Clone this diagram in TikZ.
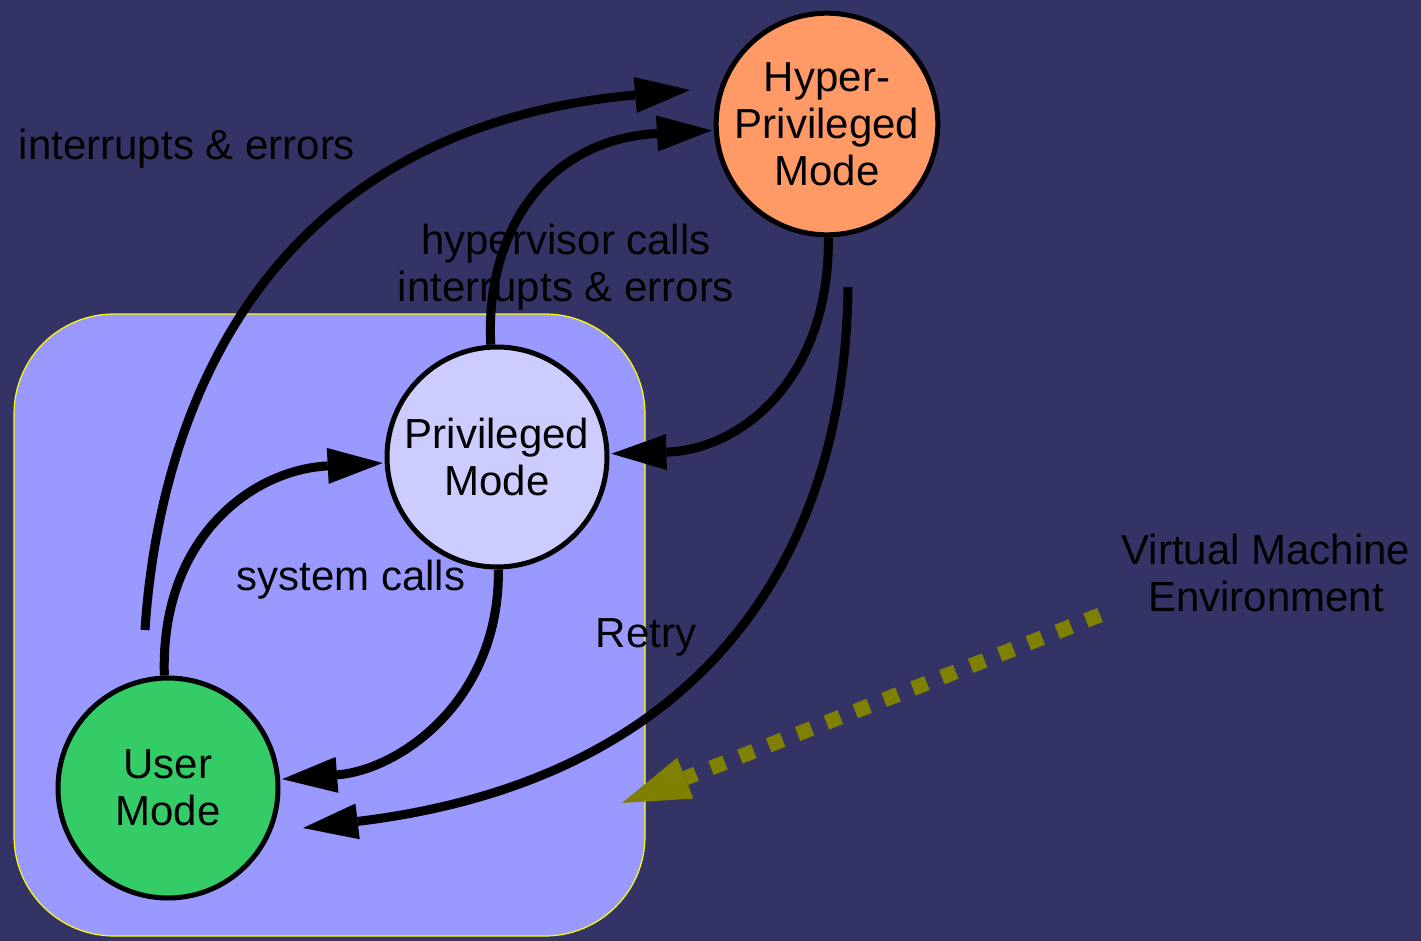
\documentclass[tikz,border=0pt]{standalone}
\usepackage{fontspec}
\setmainfont{Liberation Sans}
\usetikzlibrary{arrows.meta}
\definecolor{bgblue}{HTML}{333366}
\definecolor{vmfill}{HTML}{9999FF}
\definecolor{privfill}{HTML}{CCCCFF}
\definecolor{hyperfill}{HTML}{FF9966}
\definecolor{userfill}{HTML}{33CC66}
\definecolor{vmolive}{HTML}{808000}
\definecolor{vmedge}{HTML}{FFFF00}
\tikzset{
  modenode/.style={circle, draw=black, line width=5pt, minimum size=220pt,
    inner sep=0pt, align=center, font=\fontsize{42}{47}\selectfont},
  lbl/.style={align=center, inner sep=0pt, font=\fontsize{42}{47}\selectfont},
  trans/.style={line width=9pt, line join=round,
    -{Triangle[length=55pt,width=36pt,line width=0pt]}},
  vmarrow/.style={draw=vmolive, line width=15pt, dash pattern=on 15pt off 16pt,
    -{Triangle[length=68pt,width=44pt,line width=0pt,fill=vmolive]}},
}
\begin{document}
\begin{tikzpicture}[x=1pt,y=-1pt]
  % canvas
  \fill[bgblue] (0,0) rectangle (1421,941);
  \useasboundingbox (0,0) rectangle (1421,941);

  % virtual machine cluster
  \filldraw[fill=vmfill, draw=vmedge, line width=1.2pt, rounded corners=100pt]
    (14,314) rectangle (645,936);

  % modes
  \node[modenode, fill=hyperfill] (hyper) at (827,124) {Hyper-\\Privileged\\Mode};
  \node[modenode, fill=privfill]  (priv)  at (497,457) {Privileged\\Mode};
  \node[modenode, fill=userfill]  (user)  at (168,788) {User\\Mode};

  % free ends of the long transitions
  \coordinate (e1s) at (145,630);
  \coordinate (e1e) at (690,90);
  \coordinate (e6s) at (848,287);
  \coordinate (e6e) at (303,828);
  \coordinate (vms) at (1100,615);
  \coordinate (vme) at (622,803);

  % transitions
  \draw[trans] (e1s) .. controls (158,430) and (250,130) .. (e1e);
  \draw[trans, shorten >=2pt] (priv) .. controls (485,240) and (540,140) .. (hyper);
  \draw[trans, shorten >=2pt] (hyper) .. controls (830,380) and (740,450) .. (priv);
  \draw[trans, shorten >=2pt] (user) .. controls (160,540) and (250,470) .. (priv);
  \draw[trans, shorten >=2pt] (priv) .. controls (500,700) and (400,770) .. (user);
  \draw[trans] (e6s) .. controls (845,560) and (700,780) .. (e6e);

  % edge labels
  \node[lbl] (l1) at (187,149) {interrupts \& errors};
  \node[lbl] (l2) at (566,267) {hypervisor calls\\interrupts \& errors};
  \node[lbl] (l3) at (351,580) {system calls};
  \node[lbl] (l4) at (646,637) {Retry};

  % environment annotation
  \node[lbl] (vmlabel) at (1266,573) {Virtual Machine\\Environment};
  \draw[vmarrow] (vms) -- (vme);
\end{tikzpicture}
\end{document}
